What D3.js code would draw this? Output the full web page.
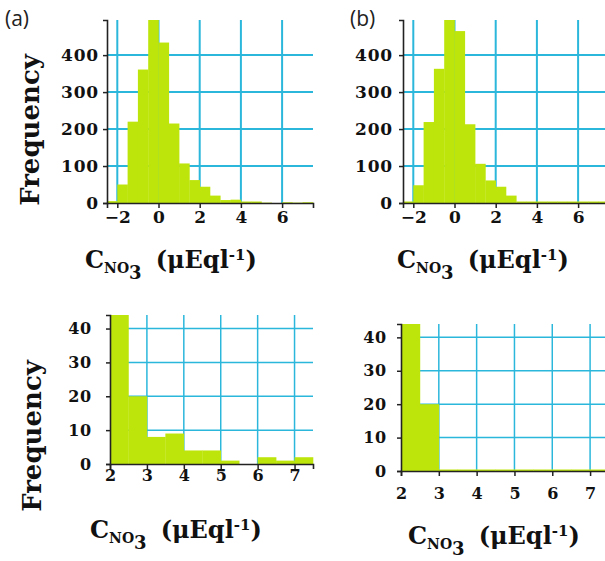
<!DOCTYPE html>
<html>
<head>
<meta charset="utf-8">
<script src="https://cdn.jsdelivr.net/npm/d3@7"></script>
<style>
  html, body { margin: 0; padding: 0; background: #fff; }
  svg { display: block; }
</style>
</head>
<body>
<svg id="chart" width="605" height="561"></svg>
<script>
// ---- data ----
const binEdgesTop = [-2.5, -2, -1.5, -1, -0.5, 0, 0.5, 1, 1.5, 2, 2.5, 3, 3.5, 4, 4.5, 5, 5.5, 6, 6.5, 7, 7.5];
const countsA = [5, 50, 220, 361, 500, 434, 215, 107, 62, 44, 20, 8, 9, 4, 4, 1, 0, 2, 1, 2];
const countsB = [0, 48, 219, 363, 500, 465, 213, 106, 61, 44, 20, 0, 0, 0, 0, 0, 0, 0, 0, 0];
const binEdgesBottom = [2, 2.5, 3, 3.5, 4, 4.5, 5, 5.5, 6, 6.5, 7, 7.5];
const countsC = [44, 20, 8, 9, 4, 4, 1, 0, 2, 1, 2];
const countsD = [44, 20, 0, 0, 0, 0, 0, 0, 0, 0, 0];
const xTicksTop = [-2, 0, 2, 4, 6];
const yTicksTop = [0, 100, 200, 300, 400];
const xTicksBottom = [2, 3, 4, 5, 6, 7];
const yTicksBottom = [0, 10, 20, 30, 40];
const panelLetters = ["(a)", "(b)"];
const yTitle = "Frequency";

const BAR = "#bde50c";
const GRID = "#2bb7dc";
const AXIS = "#222";
const SERIF = "'DejaVu Serif', serif";

const svg = d3.select("#chart");

function panel(cfg) {
  const x = d3.scaleLinear().domain(cfg.xDomain).range(cfg.xRange);
  const y = d3.scaleLinear().domain(cfg.yDomain).range(cfg.yRange).clamp(true);
  const g = svg.append("g");
  const [x0, x1] = cfg.xRange;
  const [yb, yt] = cfg.yRange;

  // grid
  g.append("g").selectAll("line.v").data(cfg.xTicks.filter(t => x(t) > x0 + 1))
    .join("line").attr("x1", d => x(d)).attr("x2", d => x(d))
    .attr("y1", yb).attr("y2", yt)
    .attr("stroke", GRID).attr("stroke-width", cfg.gridW);
  g.append("g").selectAll("line.h").data(cfg.yTicks.filter(t => t > 0))
    .join("line").attr("x1", x0).attr("x2", x1)
    .attr("y1", d => y(d)).attr("y2", d => y(d))
    .attr("stroke", GRID).attr("stroke-width", cfg.gridW);

  // bars
  const bins = cfg.counts.map((c, i) => ({ a: cfg.edges[i], b: cfg.edges[i + 1], c }));
  g.append("g").selectAll("rect").data(bins).join("rect")
    .attr("x", d => x(d.a))
    .attr("width", d => x(d.b) - x(d.a) + 0.3)
    .attr("y", d => Math.min(y(d.c), yb - cfg.minH))
    .attr("height", d => Math.max(yb - y(d.c), cfg.minH))
    .attr("fill", BAR);

  // axes
  const xAxis = d3.axisBottom(x).tickValues(cfg.xTicks).tickSize(5).tickPadding(2)
    .tickFormat(d => d < 0 ? "\u2212" + Math.abs(d) : String(d));
  const gx = g.append("g").attr("transform", `translate(0,${yb})`).call(xAxis);
  gx.select(".domain").attr("stroke", AXIS).attr("stroke-width", 1.6);
  gx.selectAll(".tick line").attr("stroke", AXIS).attr("stroke-width", 1.5);
  gx.selectAll(".tick text").attr("fill", "#111").attr("font-family", SERIF)
    .attr("font-weight", "bold").attr("font-size", cfg.tickFs).attr("dy", cfg.xLabDy);

  const yAxis = d3.axisLeft(y).tickValues(cfg.yTicks).tickSize(4).tickPadding(cfg.yPad);
  const gy = g.append("g").attr("transform", `translate(${x0},0)`).call(yAxis);
  gy.select(".domain").attr("stroke", AXIS).attr("stroke-width", 1.6);
  gy.selectAll(".tick line").attr("stroke", AXIS).attr("stroke-width", 1.5);
  gy.selectAll(".tick text").attr("fill", "#111").attr("font-family", SERIF)
    .attr("font-weight", "bold").attr("font-size", cfg.tickFs).attr("letter-spacing", 0.8);

  // x title: C_{NO3} (μEql^-1)
  const t = g.append("text").attr("x", cfg.titleX).attr("y", cfg.titleY)
    .attr("font-family", SERIF).attr("font-weight", "bold").attr("font-size", 24)
    .attr("fill", "#111");
  t.append("tspan").text("C");
  t.append("tspan").attr("font-size", 14).attr("dy", 5).text("NO");
  t.append("tspan").attr("font-size", 18).attr("dy", 6).text("3");
  t.append("tspan").attr("dy", -11).attr("dx", 14).text("(\u03bcEql");
  t.append("tspan").attr("font-size", 15).attr("dy", -8).text("-1");
  t.append("tspan").attr("dy", 8).text(")");
}

panel({ xDomain: [-2.5, 7.5], xRange: [107, 313], yDomain: [0, 495], yRange: [203, 20],
  edges: binEdgesTop, counts: countsA, xTicks: xTicksTop, yTicks: yTicksTop,
  gridW: 2, minH: 0, tickFs: 17, xLabDy: "0.75em", yPad: 4, titleX: 85, titleY: 268 });
panel({ xDomain: [-2.5, 7.5], xRange: [403, 609], yDomain: [0, 495], yRange: [203, 20],
  edges: binEdgesTop, counts: countsB, xTicks: xTicksTop, yTicks: yTicksTop,
  gridW: 2, minH: 1.5, tickFs: 17, xLabDy: "0.75em", yPad: 6, titleX: 397, titleY: 268 });
panel({ xDomain: [2, 7.5], xRange: [110, 313], yDomain: [0, 44], yRange: [464, 315],
  edges: binEdgesBottom, counts: countsC, xTicks: xTicksBottom, yTicks: yTicksBottom,
  gridW: 1.5, minH: 0, tickFs: 16, xLabDy: "0.6em", yPad: 14, titleX: 90, titleY: 538 });
panel({ xDomain: [2, 7.5], xRange: [401, 609], yDomain: [0, 44], yRange: [471, 324],
  edges: binEdgesBottom, counts: countsD, xTicks: xTicksBottom, yTicks: yTicksBottom,
  gridW: 1.5, minH: 1.5, tickFs: 16, xLabDy: "1.3em", yPad: 10, titleX: 408, titleY: 544 });

// panel letters
svg.append("text").attr("x", 5).attr("y", 26).attr("font-family", "'Open Sans', 'Noto Sans', sans-serif")
  .attr("font-size", 21).attr("fill", "#222").text(panelLetters[0]);
svg.append("text").attr("x", 350).attr("y", 26).attr("font-family", "'Open Sans', 'Noto Sans', sans-serif")
  .attr("font-size", 21).attr("fill", "#222").text(panelLetters[1]);

// y titles
[[30, 130], [32, 436]].forEach(([cx, cy]) => {
  svg.append("text").attr("transform", `translate(${cx},${cy}) rotate(-90)`)
    .attr("text-anchor", "middle").attr("dominant-baseline", "central")
    .attr("font-family", SERIF).attr("font-weight", "bold").attr("font-size", 26)
    .attr("fill", "#111").text(yTitle);
});
</script>
</body>
</html>
